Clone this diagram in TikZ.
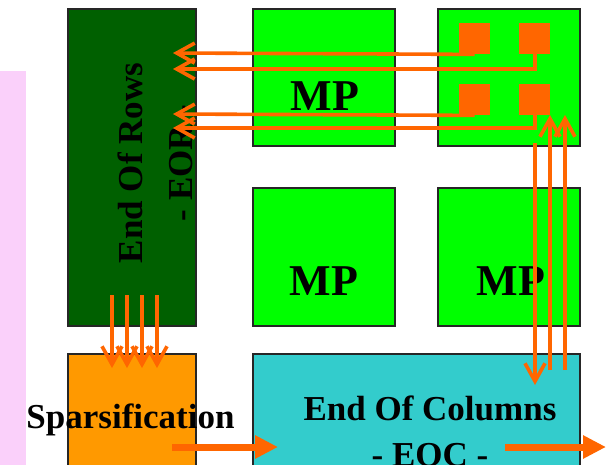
\documentclass[tikz,border=0pt]{standalone}
\usepackage{fontspec}
\setmainfont{Liberation Serif}
\usetikzlibrary{arrows.meta}
\definecolor{pinkbg}{RGB}{250,208,250}
\definecolor{darkgr}{RGB}{0,96,0}
\definecolor{brightgr}{RGB}{0,255,0}
\definecolor{orng}{RGB}{255,102,0}
\definecolor{sparse}{RGB}{255,153,0}
\definecolor{cyanbox}{RGB}{51,204,204}
\begin{document}
\begin{tikzpicture}[x=1pt,y=-1pt,
  box/.style={draw=black!85,line width=1.2pt,anchor=north west,inner sep=0pt,outer sep=0pt},
  sq/.style={fill=orng,anchor=north west,inner sep=0pt,minimum width=31pt,minimum height=31pt},
  big/.style={font=\bfseries\fontsize{35}{50}\selectfont,inner sep=0pt},
  mp/.style={font=\bfseries\fontsize{44}{50}\selectfont,inner sep=0pt,anchor=base},
  ln/.style={orng,line width=3.6pt,-{Straight Barb[length=18pt,width=20pt]}},
  fat/.style={orng,line width=7pt,-{Triangle[length=23pt,width=22pt]}}]
\useasboundingbox (0,0) rectangle (606,464);
\fill[pinkbg] (0,71) rectangle (26,470);
% boxes
\node[box,fill=darkgr,minimum width=128pt,minimum height=317pt] (eor) at (68,9) {};
\node[box,fill=brightgr,minimum width=142pt,minimum height=137pt] (mp1) at (253,9) {};
\node[box,fill=brightgr,minimum width=142pt,minimum height=137pt] (mp2) at (438,9) {};
\node[box,fill=brightgr,minimum width=142pt,minimum height=138pt] (mp3) at (253,188) {};
\node[box,fill=brightgr,minimum width=142pt,minimum height=138pt] (mp4) at (438,188) {};
\node[box,fill=sparse,minimum width=128pt,minimum height=130pt] (spars) at (68,354) {};
\node[box,fill=cyanbox,minimum width=327pt,minimum height=130pt] (eoc) at (253,354) {};
% squares
\node[sq] (sq1) at (459,23) {};
\node[sq] (sq2) at (519,23) {};
\node[sq] (sq3) at (459,84) {};
\node[sq] (sq4) at (519,84) {};
% texts
\node[big,rotate=90,align=center] (eort) at (155,163) {End Of Rows\\- EOR -};
\node[mp] (mpt1) at (325,110) {MP};
\node[mp] (mpt3) at (324,295) {MP};
\node[mp] (mpt4) at (511,295) {MP};
\node[big,align=center,anchor=north,font=\bfseries\fontsize{35}{46}\selectfont] (eoct) at (430,396) {End Of Columns\\- EOC -};
\node[big,anchor=base] (spt) at (130.5,428) {Sparsification};
% coordinates
\coordinate (r1) at (173,53);
\coordinate (r2) at (173,69);
\coordinate (r3) at (173,114);
\coordinate (r4) at (173,128);
\coordinate (d0) at (535,143);
\coordinate (d1) at (535,385);
\coordinate (u1a) at (550,370);
\coordinate (u1b) at (550,115);
\coordinate (u2a) at (565,370);
\coordinate (u2b) at (565,115);
\coordinate (fa) at (172,447);
\coordinate (fb) at (278,447);
\coordinate (ga) at (505,447);
\coordinate (gb) at (606,447);
% connectors
\draw[ln] (sq1.south) -- (r1);
\draw[ln] (sq2.south) |- (r2);
\draw[ln] (sq3.south) -- (r3);
\draw[ln] (sq4.south) |- (r4);
\draw[ln] (d0) -- (d1);
\draw[ln] (u1a) -- (u1b);
\draw[ln] (u2a) -- (u2b);
\foreach \x in {112,127,142,157}{
  \draw[ln] (\x,295) -- (\x,368);
}
\draw[fat] (fa) -- (fb);
\draw[fat] (ga) -- (gb);
\end{tikzpicture}
\end{document}
